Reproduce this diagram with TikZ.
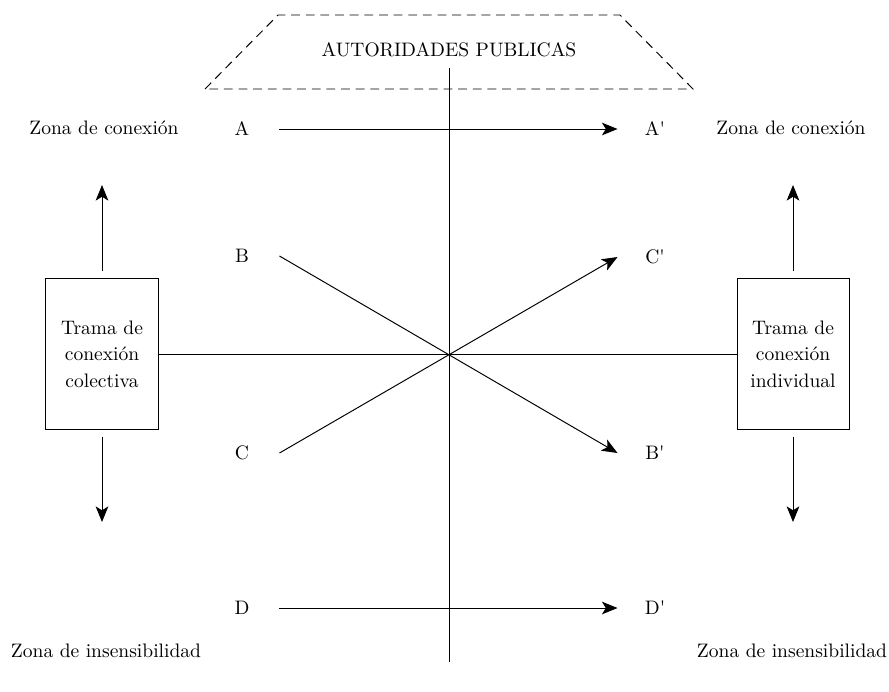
\documentclass[tikz,border=0pt]{standalone}
\usetikzlibrary{arrows.meta,positioning,calc}

\tikzset{
  trama/.style={draw, align=center, inner sep=0pt, minimum width=57.4pt, minimum height=77.8pt, text width=52pt},
  letra/.style={inner sep=0pt, minimum width=37.9pt, minimum height=6pt},
  zona/.style={inner sep=0pt},
}

\begin{document}
\begin{tikzpicture}[x=0.018cm, y=-0.018cm, line width=0.5pt,
    >={Stealth[length=8pt,width=6.5pt,inset=2pt]}]
        \useasboundingbox (0,0) rectangle (889,691);
        \coordinate (arriba) at (449,68);
        \coordinate (abajo) at (449,662);
        \coordinate (1) at (205,89);
        \coordinate (2) at (278,15);
        \coordinate (3) at (620,15);
        \coordinate (4) at (693,89);
        \draw[dash pattern=on 4.5pt off 3pt] (1)--(2)--(3)--(4)-- cycle;
        \node (aut) at (449,50) {AUTORIDADES PUBLICAS};
        \draw (arriba)--(abajo);

        \node[trama] (col) at (102,354) {Trama de\\[1.5pt]conexión\\[1.5pt]colectiva};
        \node[trama] (ind) at (793,354) {Trama de\\[1.5pt]conexión\\[1.5pt]individual};
        \draw (col)--(ind);

        \node[zona] (zc1) at (104,128) {Zona de conexión};
        \node[zona] (zc2) at (791,128) {Zona de conexión};
        \node[zona] (zi1) at (106,651) {Zona de insensibilidad};
        \node[zona] (zi2) at (792,651) {Zona de insensibilidad};
        \coordinate (5) at (102,185);
        \coordinate (6) at (102,522);
        \coordinate (7) at (793,185);
        \coordinate (8) at (793,522);
        \draw[->, shorten <=3.5pt] (col.north)--(5);
        \draw[->, shorten <=3.5pt] (col.south)--(6);
        \draw[->, shorten <=3.5pt] (ind.north)--(7);
        \draw[->, shorten <=3.5pt] (ind.south)--(8);

        \node[letra] (A) at (242,129) {A};
        \node[letra] (B) at (242,256) {B};
        \node[letra] (C) at (242,453) {C};
        \node[letra] (D) at (242,608) {D};
        \node[letra] (Ap) at (655,129) {A\textquotesingle};
        \node[letra] (Cp) at (655,257) {C\textquotesingle};
        \node[letra] (Bp) at (655,453) {B\textquotesingle};
        \node[letra] (Dp) at (655,608) {D\textquotesingle};
        \draw[->] (A.east)--(Ap.west);
        \draw[->] (B.east)--(Bp.west);
        \draw[->] (C.east)--(Cp.west);
        \draw[->] (D.east)--(Dp.west);
    \end{tikzpicture}
\end{document}
